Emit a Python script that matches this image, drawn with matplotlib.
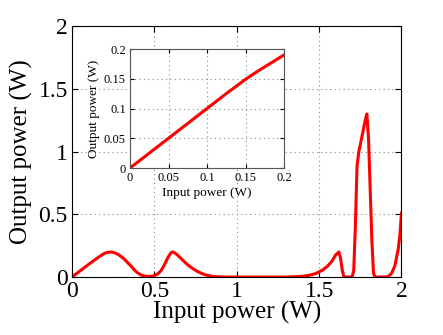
import matplotlib
matplotlib.use('Agg')
import matplotlib.pyplot as plt

plt.rcParams['font.family'] = ['Liberation Serif', 'DejaVu Serif']
plt.rcParams['mathtext.fontset'] = 'stix'

# main curve: output vs input power (W)
p_in = [0.00, 0.05, 0.10, 0.15, 0.18, 0.20, 0.22, 0.24, 0.26, 0.28, 0.30,
        0.32, 0.34, 0.36, 0.38, 0.40, 0.42, 0.44, 0.46, 0.48, 0.50, 0.52,
        0.54, 0.56, 0.58, 0.60, 0.61, 0.62, 0.64, 0.66, 0.68, 0.70, 0.72,
        0.74, 0.76, 0.78, 0.80, 0.82, 0.84, 0.86, 0.90, 0.95, 1.00, 1.10,
        1.20, 1.30, 1.35, 1.40, 1.44, 1.48, 1.52, 1.55, 1.58, 1.60, 1.62,
        1.63, 1.64, 1.65, 1.70, 1.71, 1.72, 1.73, 1.74, 1.76, 1.78, 1.79,
        1.80, 1.81, 1.82, 1.83, 1.84, 1.90, 1.92, 1.94, 1.96, 1.98, 1.99,
        2.00]
p_out = [0.000, 0.050, 0.100, 0.148, 0.175, 0.190, 0.198, 0.199, 0.193,
         0.180, 0.162, 0.140, 0.112, 0.085, 0.055, 0.032, 0.016, 0.008,
         0.005, 0.006, 0.011, 0.025, 0.050, 0.095, 0.150, 0.193, 0.200,
         0.196, 0.176, 0.150, 0.125, 0.100, 0.080, 0.062, 0.046, 0.033,
         0.022, 0.014, 0.008, 0.004, 0.001, 0.000, 0.000, 0.000, 0.000,
         0.000, 0.002, 0.006, 0.014, 0.028, 0.055, 0.085, 0.130, 0.175,
         0.200, 0.150, 0.060, 0.000, 0.000, 0.050, 0.400, 0.880, 0.990,
         1.120, 1.250, 1.300, 1.100, 0.700, 0.300, 0.030, 0.000, 0.000,
         0.005, 0.030, 0.090, 0.220, 0.330, 0.510]

# inset: low-power zoom
p_in_small = [0.000, 0.050, 0.100, 0.125, 0.150, 0.165, 0.180, 0.190, 0.200]
p_out_small = [0.000, 0.050, 0.100, 0.125, 0.149, 0.162, 0.174, 0.182, 0.190]

grid_style = dict(linestyle=(0, (1, 3)), color='#888888', linewidth=0.8)

fig = plt.figure(figsize=(4.43, 3.35), dpi=100)

ax = fig.add_axes([0.1625, 0.173, 0.7438, 0.749])
ax.plot(p_in, p_out, color='red', linewidth=2.2)
ax.set_xlim(0, 2)
ax.set_ylim(0, 2)
ax.set_xticks([0, 0.5, 1, 1.5, 2])
ax.set_yticks([0, 0.5, 1, 1.5, 2])
ax.set_xticklabels(['0', '0.5', '1', '1.5', '2'])
ax.set_yticklabels(['0', '0.5', '1', '1.5', '2'])
ax.tick_params(direction='in', top=True, right=True, labelsize=17, length=4, pad=3)
ax.grid(True, **grid_style)
ax.set_xlabel('Input power (W)', fontsize=18, labelpad=-1)
ax.set_ylabel('Output power (W)', fontsize=18, labelpad=4)

ins = fig.add_axes([0.2935, 0.4985, 0.3476, 0.3552])
ins.plot(p_in_small, p_out_small, color='red', linewidth=2.2)
ins.set_xlim(0, 0.2)
ins.set_ylim(0, 0.2)
ins.set_xticks([0, 0.05, 0.1, 0.15, 0.2])
ins.set_yticks([0, 0.05, 0.1, 0.15, 0.2])
ins.set_xticklabels(['0', '0.05', '0.1', '0.15', '0.2'])
ins.set_yticklabels(['0', '0.05', '0.1', '0.15', '0.2'])
ins.tick_params(direction='in', top=True, right=True, labelsize=9, length=3, pad=3)
ins.grid(True, **grid_style)
ins.set_xlabel('Input power (W)', fontsize=9.5, labelpad=2)
ins.set_ylabel('Output power (W)', fontsize=9.5, labelpad=3)
for s in ins.spines.values():
    s.set_color('#555555')

fig.savefig('out.png', dpi=100)
